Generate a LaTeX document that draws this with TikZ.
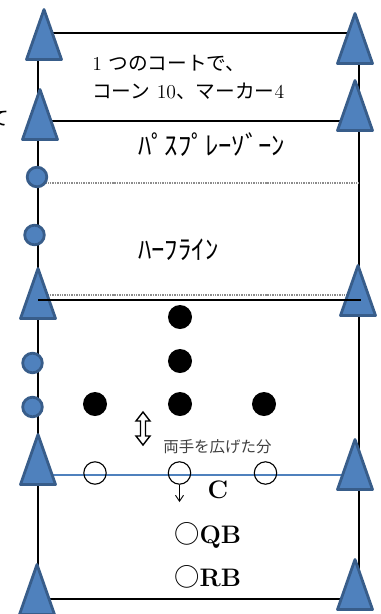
\documentclass[tikz,border=0pt]{standalone}
\usepackage{fontspec}
\usepackage{tikz}
\usetikzlibrary{arrows.meta}
\newfontfamily\jpfont{Noto Sans CJK JP}
\definecolor{conefill}{HTML}{4F81BD}
\definecolor{coneedge}{HTML}{385D8A}
\definecolor{halftone}{HTML}{404040}
\tikzset{
  court/.style={line width=1.5pt,draw=black},
  zone/.style={line width=1pt,draw=black!45,dash pattern=on 1pt off 0.7pt},
  scrim/.style={line width=1.3pt,draw=conefill},
  cone/.pic={\draw[fill=conefill,draw=coneedge,line width=2pt,line join=round]
              (0,1.5) -- (17.5,51.5) -- (-17.5,51.5) -- cycle;},
  marker/.style={circle,fill=conefill,draw=coneedge,line width=2pt,minimum size=4.9mm,inner sep=0pt},
  player/.style={circle,fill=black,minimum size=6mm,inner sep=0pt},
  lineman/.style={circle,draw=black,line width=0.8pt,minimum size=5.6mm,inner sep=0pt},
  txt/.style={inner sep=0pt,anchor=west},
  note/.style={txt,font=\fontsize{14pt}{16pt}\selectfont},
  kana/.style={txt,font=\jpfont\fontsize{19pt}{21pt}\selectfont},
  big/.style={txt,font=\fontsize{18pt}{20pt}\selectfont\bfseries}
}
\begin{document}
\begin{tikzpicture}[x=0.025cm,y=-0.025cm]
  \useasboundingbox (0,0) rectangle (381,614);
  % court
  \coordinate (tl) at (38,33);
  \coordinate (tr) at (359,33);
  \coordinate (bl) at (38,599);
  \coordinate (br) at (359,599);
  \draw[court] (tl) -- (tr) -- (br) -- (bl) -- cycle;
  \draw[court] (38,121) -- (359,121);
  \draw[zone] (38,183) -- (359,183);
  \draw[zone] (38,295) -- (359,295);
  \draw[scrim] (38,475) -- (355,475);

  % cones and markers
  \foreach \x/\y in {44/8,355/12,40/88,355/79,38/267,358/264,38/433,355/438,37/563,355/558}
    \pic at (\x,\y) {cone};
  \draw[court] (38,300) -- (361,300);
  \foreach \x/\y [count=\i] in {37/177,34.5/235,32.5/363,32.5/407}
    \node[marker] (m\i) at (\x,\y) {};

  % defence and offence
  \node[player] (d1) at (180,317) {};
  \node[player] (d2) at (180,361) {};
  \foreach \x [count=\i from 3] in {95,180,264}
    \node[player] (d\i) at (\x,404) {};
  \foreach \x [count=\i] in {95,179.5,265.5}
    \node[lineman] (o\i) at (\x,473) {};
  \coordinate (snap) at (179.5,502);
  \draw[line width=0.6pt,-{Straight Barb[length=1.5mm,width=2mm]}] (o2.south) -- (snap);
  \draw[line width=1pt,fill=white] (143,412) -- (150,421) -- (145.5,421) -- (145.5,436) -- (150,436)
    -- (143,445) -- (136,436) -- (140.5,436) -- (140.5,421) -- (136,421) -- cycle;

  % texts
  \node[note,anchor=east] (cut) at (9,119) {\jpfont て};
  \node[note] (note1) at (92,63) {1 {\jpfont つのコートで、}};
  \node[note] (note2) at (92,91) {{\jpfont コーン} 10{\jpfont 、マーカー}4};
  \node[kana] (pass) at (138,145) {ﾊﾟｽﾌﾟﾚｰｿﾞｰﾝ};
  \node[kana] (half) at (138,250) {ﾊｰﾌﾗｲﾝ};
  \node[txt,font=\jpfont\fontsize{11pt}{13pt}\selectfont,text=halftone] (gap) at (163,447) {両手を広げた分};
  \node[big,anchor=center] (c) at (218,490) {C};
  \node[big] (qb) at (174,535) {{\mdseries\jpfont ○}QB};
  \node[big] (rb) at (174,577) {{\mdseries\jpfont ○}RB};
\end{tikzpicture}
\end{document}
